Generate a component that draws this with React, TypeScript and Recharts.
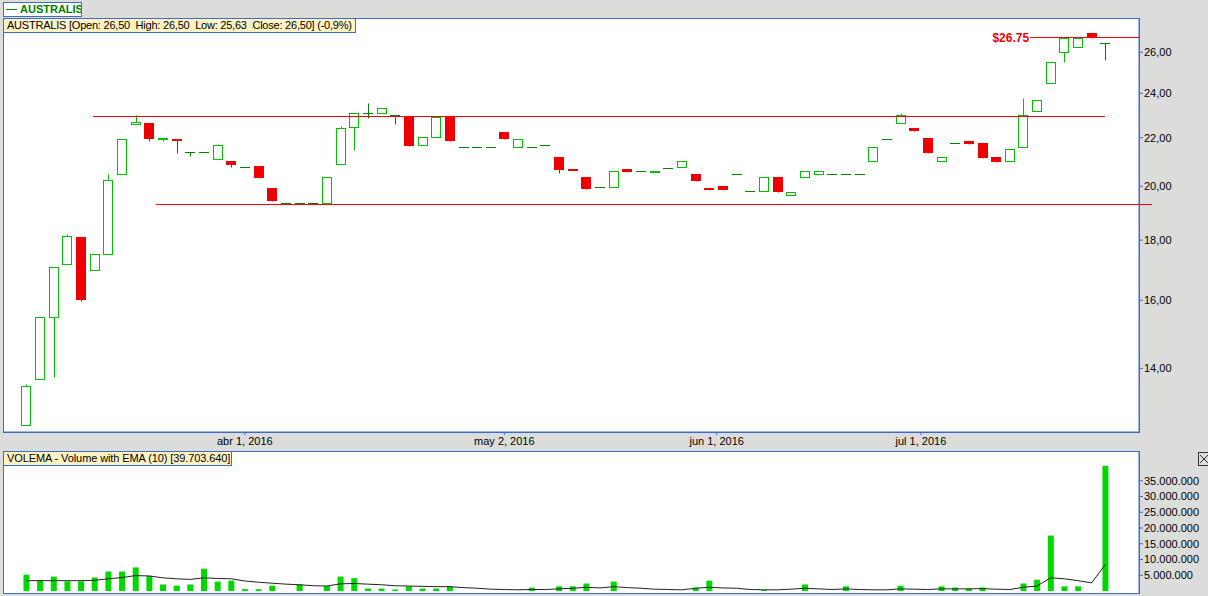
import { Bar, ComposedChart, Line, ReferenceLine, XAxis, YAxis } from "recharts";

// one candle per trading session, oldest first
const opens = [
  12.54, 13.72, 15.49, 17.19, 18.1, 16.96, 17.5, 20.47, 22.6, 22.64,
  21.94, 21.94, 21.37, 21.37, 21.08, 21.01, 20.79, 20.8, 19.93, 19.37,
  19.37, 19.37, 19.37, 20.91, 22.47, 23.11, 23.11, 22.98, 22.93, 21.67,
  22.01, 22.93, 21.62, 21.62, 21.62, 22.24, 21.62, 21.62, 21.67, 21.17,
  20.69, 20.36, 19.99, 19.99, 20.69, 20.59, 20.58, 20.75, 20.79, 20.48,
  19.93, 20.0, 20.47, 19.81, 19.81, 20.36, 19.68, 20.35, 20.47, 20.47,
  20.47, 20.47, 21.0, 21.96, 22.62, 22.41, 21.98, 21.0, 21.79, 21.85,
  21.76, 21.17, 21.0, 21.58, 23.16, 24.47, 26.0, 26.26, 27.0, 26.5,
];
const highs = [
  13.57, 15.49, 17.09, 18.2, 18.1, 17.5, 20.48, 21.96, 22.99, 22.64,
  21.97, 21.96, 21.37, 21.37, 21.72, 21.01, 20.79, 20.8, 19.93, 19.37,
  19.37, 19.37, 20.35, 22.5, 23.11, 23.53, 23.3, 22.98, 22.93, 22.01,
  22.89, 22.93, 21.62, 21.62, 21.62, 22.24, 21.96, 21.62, 21.67, 21.17,
  20.69, 20.36, 19.99, 20.59, 20.69, 20.59, 20.6, 20.75, 21.0, 20.48,
  19.93, 20.0, 20.47, 19.81, 20.35, 20.36, 19.79, 20.59, 20.59, 20.47,
  20.47, 20.47, 21.58, 21.96, 23.07, 22.41, 21.98, 21.2, 21.79, 21.85,
  21.76, 21.17, 21.5, 23.77, 23.67, 25.5, 26.72, 26.72, 27.0, 26.5,
];
const lows = [
  12.54, 13.72, 13.77, 17.19, 15.97, 16.96, 17.5, 20.47, 22.6, 21.86,
  21.86, 21.35, 21.23, 21.37, 21.08, 20.78, 20.79, 20.33, 19.43, 19.37,
  19.37, 19.37, 19.37, 20.91, 21.47, 22.87, 23.11, 22.6, 21.65, 21.67,
  22.01, 21.86, 21.62, 21.62, 21.62, 21.95, 21.62, 21.62, 21.67, 20.53,
  20.66, 19.9, 19.99, 19.99, 20.58, 20.59, 20.58, 20.75, 20.79, 20.21,
  19.86, 19.86, 20.47, 19.81, 19.81, 19.78, 19.68, 20.35, 20.47, 20.47,
  20.47, 20.47, 21.0, 21.96, 22.62, 22.29, 21.35, 21.0, 21.79, 21.73,
  21.15, 20.98, 21.0, 21.58, 23.16, 24.47, 25.52, 26.26, 26.75, 25.63,
];
const closes = [
  13.53, 15.49, 17.09, 18.13, 16.0, 17.5, 20.23, 21.96, 22.68, 21.95,
  21.97, 21.91, 21.37, 21.37, 21.67, 20.84, 20.79, 20.33, 19.43, 19.37,
  19.37, 19.37, 20.35, 22.44, 23.11, 23.11, 23.3, 22.98, 21.65, 22.01,
  22.89, 21.86, 21.62, 21.62, 21.62, 21.95, 21.96, 21.62, 21.67, 20.65,
  20.66, 19.9, 19.99, 20.59, 20.58, 20.59, 20.6, 20.75, 21.0, 20.21,
  19.86, 19.86, 20.47, 19.81, 20.35, 19.78, 19.79, 20.59, 20.59, 20.47,
  20.47, 20.47, 21.58, 21.96, 22.98, 22.29, 21.35, 21.2, 21.79, 21.73,
  21.15, 20.98, 21.5, 22.98, 23.67, 25.5, 26.72, 26.72, 26.75, 26.5,
];
const volumes = [
  5200000, 3300000, 4600000, 3100000, 3100000, 4300000, 6200000, 6200000, 7500000, 4800000,
  2100000, 1700000, 2100000, 7100000, 3000000, 3300000, 600000, 600000, 1700000, 0,
  2100000, 0, 1600000, 4600000, 4100000, 800000, 800000, 500000, 1500000, 800000,
  800000, 1500000, 0, 0, 0, 0, 0, 1100000, 0, 1500000,
  1500000, 2400000, 0, 3000000, 0, 0, 0, 0, 0, 1100000,
  3300000, 0, 0, 0, 300000, 0, 0, 2100000, 0, 0,
  1500000, 0, 0, 0, 1700000, 0, 0, 1500000, 1100000, 800000,
  1100000, 0, 0, 2400000, 3600000, 17600000, 1500000, 1500000, 0, 39703640,
];
const volumeEma = [
  3300000, 3300000, 3300000, 3300000, 3300000, 3400000, 3900000, 4300000, 4900000, 4800000,
  4200000, 3900000, 3700000, 4200000, 4000000, 3900000, 3200000, 2800000, 2500000, 2200000,
  2000000, 1700000, 1600000, 2300000, 2400000, 2200000, 2000000, 1700000, 1600000, 1500000,
  1400000, 1400000, 1100000, 900000, 600000, 500000, 400000, 500000, 500000, 700000,
  900000, 1200000, 1000000, 1400000, 1100000, 900000, 600000, 500000, 400000, 900000,
  1200000, 1000000, 900000, 500000, 400000, 400000, 600000, 900000, 700000, 500000,
  700000, 500000, 400000, 400000, 700000, 600000, 500000, 700000, 700000, 700000,
  800000, 600000, 500000, 1200000, 1600000, 4200000, 3900000, 3300000, 2600000, 8400000,
];

const dateTicks = [16, 35, 50.55, 65.5];
const dateLabels = ["abr 1, 2016", "may 2, 2016", "jun 1, 2016", "jul 1, 2016"];
const priceTicks = [14, 16, 18, 20, 22, 24, 26];
const volumeTicks = [5000000, 10000000, 15000000, 20000000, 25000000, 30000000, 35000000];

// drawn trend lines: [from index, to index, price]
const resistance = [4.88, 79, 22.93];
const support = [9.5, 82.42, 19.3];
const lastLevel = [73.5, 81.47, 26.75];

const BLUE = "#3d6dc5";
const UP = "#00c000";
const DOWN = "#ee0000";
const FLAT = "#008000";
const FONT = "'Liberation Sans', Arial, sans-serif";
const X_DOMAIN = [-1.706, 81.47];

const data = opens.map((open, i) => ({
  i,
  open,
  high: highs[i],
  low: lows[i],
  close: closes[i],
  range: [lows[i], highs[i]],
  volume: volumes[i],
  ema: volumeEma[i],
}));

function Candle(props: any) {
  const { x, y, width, height, payload } = props;
  if (x == null || y == null || !payload) return null;
  const { open, close, high, low } = payload;
  const top = Math.min(y, y + (height || 0));
  const bottom = Math.max(y, y + (height || 0));
  const span = Math.log(high) - Math.log(low);
  const toY = (v: number) =>
    span > 0 ? top + ((bottom - top) * (Math.log(high) - Math.log(v))) / span : top;
  const cx = Math.round(x + width / 2);
  const px = (v: number) => Math.round(toY(v)) + 0.5;
  const wx = cx + 0.5;

  if (close === open) {
    const yy = px(close);
    return (
      <g>
        <line x1={wx} x2={wx} y1={px(high)} y2={px(low)} stroke={FLAT} />
        <line x1={cx - 5} x2={cx + 5} y1={yy} y2={yy} stroke={FLAT} />
      </g>
    );
  }
  if (close > open) {
    const yTop = px(close);
    const yBot = px(open);
    return (
      <g>
        <line x1={wx} x2={wx} y1={px(high)} y2={yTop} stroke={UP} />
        <line x1={wx} x2={wx} y1={yBot} y2={px(low)} stroke={UP} />
        <rect x={cx - 4.5} y={yTop} width={9} height={Math.max(yBot - yTop, 1)} fill="#fff" stroke={UP} />
      </g>
    );
  }
  const yTop = Math.round(toY(open));
  const yBot = Math.round(toY(close));
  return (
    <g>
      <line x1={wx} x2={wx} y1={px(high)} y2={px(low)} stroke={DOWN} />
      <rect x={cx - 5} y={yTop} width={10} height={Math.max(yBot - yTop, 2)} fill={DOWN} />
    </g>
  );
}

const priceFmt = (v: number) => v.toFixed(2).replace(".", ",");
const volFmt = (v: number) => String(v).replace(/\B(?=(\d{3})+(?!\d))/g, ".");
const dateFmt = (v: number) => dateLabels[dateTicks.indexOf(v)] ?? "";

const boxStyle: React.CSSProperties = {
  position: "absolute",
  boxSizing: "border-box",
  border: `1px solid ${BLUE}`,
  fontFamily: FONT,
  fontSize: 11,
  color: "#000",
  whiteSpace: "pre",
  lineHeight: "13px",
  paddingLeft: 3,
  overflow: "hidden",
};

export default function App() {
  const tickStyle = { fontSize: 11, fill: "#000", fontFamily: FONT };
  return (
    <div style={{ position: "relative", width: 1208, height: 596, background: "#dcdddb", overflow: "hidden" }}>
      <style>{`body{margin:0}`}</style>

      {/* panel frames */}
      <div style={{ position: "absolute", left: 3, top: 18, width: 1137, height: 415, background: "#fff", border: `1px solid ${BLUE}`, boxSizing: "border-box" }} />
      <div style={{ position: "absolute", left: 3, top: 451, width: 1137, height: 143, background: "#fff", border: `1px solid ${BLUE}`, boxSizing: "border-box" }} />

      <div style={{ position: "absolute", left: 0, top: 0 }}>
        <ComposedChart width={1208} height={452} data={data} margin={{ top: 18, right: 0, left: 3, bottom: 0 }}>
          <XAxis
            dataKey="i"
            type="number"
            domain={X_DOMAIN}
            allowDataOverflow
            ticks={dateTicks}
            interval={0}
            tickFormatter={dateFmt}
            height={20}
            tickSize={3}
            tickMargin={2}
            axisLine={{ stroke: BLUE }}
            tickLine={{ stroke: BLUE }}
            tick={tickStyle}
          />
          <YAxis
            orientation="right"
            type="number"
            scale="log"
            domain={[12.36, 27.81]}
            allowDataOverflow
            ticks={priceTicks}
            interval={0}
            tickFormatter={priceFmt}
            width={69}
            tickSize={4}
            tickMargin={1}
            axisLine={{ stroke: BLUE }}
            tickLine={{ stroke: BLUE }}
            tick={tickStyle}
          />
          <ReferenceLine
            segment={[{ x: resistance[0], y: resistance[2] }, { x: resistance[1], y: resistance[2] }]}
            stroke="#ff0000"
            shapeRendering="crispEdges"
            ifOverflow="visible"
          />
          <ReferenceLine
            segment={[{ x: support[0], y: support[2] }, { x: support[1], y: support[2] }]}
            stroke="#ff0000"
            shapeRendering="crispEdges"
            ifOverflow="visible"
          />
          <ReferenceLine
            segment={[{ x: lastLevel[0], y: lastLevel[2] }, { x: lastLevel[1], y: lastLevel[2] }]}
            stroke="#ff0000"
            shapeRendering="crispEdges"
            ifOverflow="visible"
            label={{ value: "$26.75", position: "left", offset: 1, fill: "#ee0000", fontWeight: "bold", fontSize: 12, fontFamily: FONT }}
          />
          <Bar dataKey="range" barSize={10} shape={<Candle />} isAnimationActive={false} />
        </ComposedChart>
      </div>

      <div style={{ position: "absolute", left: 0, top: 451 }}>
        <ComposedChart width={1208} height={142} data={data} margin={{ top: 0, right: 0, left: 3, bottom: 0 }}>
          <XAxis dataKey="i" type="number" domain={X_DOMAIN} allowDataOverflow hide />
          <YAxis
            orientation="right"
            type="number"
            domain={[-610000, 44420000]}
            allowDataOverflow
            ticks={volumeTicks}
            interval={0}
            tickFormatter={volFmt}
            width={69}
            tickSize={4}
            tickMargin={1}
            axisLine={{ stroke: BLUE }}
            tickLine={{ stroke: BLUE }}
            tick={tickStyle}
          />
          <Bar dataKey="volume" barSize={6} fill="#00d800" isAnimationActive={false} />
          <Line dataKey="ema" type="linear" stroke="#222" strokeWidth={1} dot={false} isAnimationActive={false} />
        </ComposedChart>
      </div>

      {/* legend boxes */}
      <div style={{ ...boxStyle, left: 3, top: 2, width: 79, height: 15, background: "#fff", paddingLeft: 2 }}>
        <span style={{ display: "inline-block", width: 11, height: 1, background: FLAT, verticalAlign: "middle", marginRight: 3, marginTop: -2 }} />
        <span style={{ color: FLAT, fontWeight: "bold", fontSize: 11 }}>AUSTRALIS</span>
      </div>
      <div style={{ ...boxStyle, left: 3, top: 18, width: 353, height: 15, background: "#fff3c4", letterSpacing: -0.22 }}>
        {"AUSTRALIS [Open: 26,50  High: 26,50  Low: 25,63  Close: 26,50] (-0,9%)"}
      </div>
      <div style={{ ...boxStyle, left: 3, top: 451, width: 229, height: 15, background: "#fff3c4", letterSpacing: -0.1 }}>
        {"VOLEMA - Volume with EMA (10) [39.703.640]"}
      </div>
      <svg style={{ position: "absolute", left: 1198, top: 452 }} width={12} height={14}>
        <rect x={0.5} y={0.5} width={12} height={13} fill="#dcdddb" stroke="#333" />
        <line x1={2} y1={3} x2={10} y2={11} stroke="#333" />
        <line x1={10} y1={3} x2={2} y2={11} stroke="#333" />
      </svg>
    </div>
  );
}
